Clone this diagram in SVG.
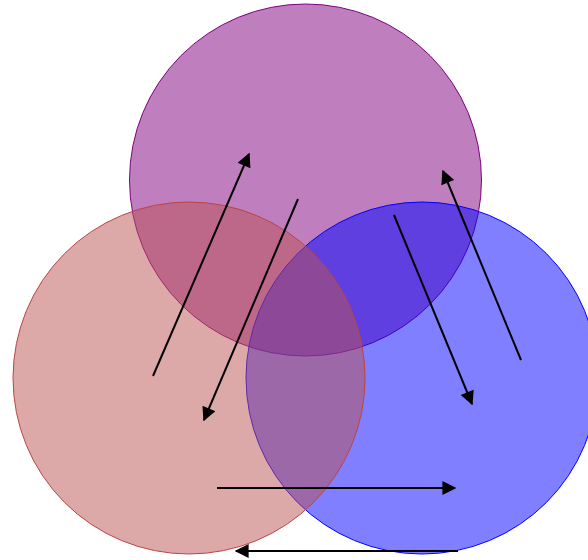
<svg xmlns="http://www.w3.org/2000/svg" width="588" height="560" viewBox="0 0 588 560">
<style>
.c{fill-opacity:0.5;stroke-width:1}
.a{stroke:#000;stroke-width:2;fill:none;marker-end:url(#ah)}
</style>
<defs>
<marker id="ah" viewBox="0 0 10 10" refX="9" refY="5" markerWidth="8" markerHeight="7" markerUnits="strokeWidth" orient="auto">
<path d="M0,0 L10,5 L0,10 z" fill="#000"/>
</marker>
</defs>
<rect width="588" height="560" fill="#fff"/>
<g id="top"><circle class="c" cx="305.5" cy="180" r="176" fill="#800080" stroke="#800080"/></g>
<g id="right"><circle class="c" cx="422" cy="378" r="176" fill="#0000ff" stroke="#0000ff"/></g>
<g id="left"><circle class="c" cx="189" cy="378" r="176" fill="#bb5151" stroke="#bb4444"/></g>
<g id="connectors">
<line class="a" x1="153" y1="376" x2="249" y2="154"/>
<line class="a" x1="298" y1="199" x2="204" y2="420"/>
<line class="a" x1="394" y1="215" x2="472" y2="404"/>
<line class="a" x1="521" y1="360" x2="443" y2="171"/>
<line class="a" x1="217" y1="488" x2="455" y2="488"/>
<line class="a" x1="458" y1="551" x2="236" y2="551"/>
</g>
</svg>
